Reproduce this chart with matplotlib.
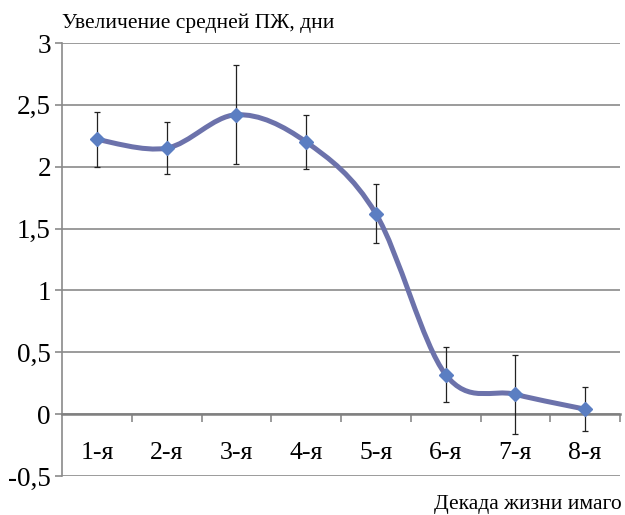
# =========================================================
# УВЕЛИЧЕНИЕ СРЕДНЕЙ ПЖ ПО ДЕКАДАМ ЖИЗНИ ИМАГО
# =========================================================

import matplotlib.pyplot as plt
from matplotlib.path import Path
from matplotlib.patches import PathPatch
from matplotlib.ticker import FuncFormatter, FixedLocator

# =========================================================
# DATA
# =========================================================

decades = ["1-я", "2-я", "3-я", "4-я", "5-я", "6-я", "7-я", "8-я"]

gain = [2.22, 2.15, 2.42, 2.20, 1.62, 0.32, 0.16, 0.04]

err = [0.22, 0.21, 0.40, 0.22, 0.24, 0.22, 0.32, 0.18]

y_ticks = [-0.5, 0, 0.5, 1, 1.5, 2, 2.5, 3]

# =========================================================
# STYLE
# =========================================================

plt.rcParams["font.family"] = ["Liberation Serif", "DejaVu Serif"]

LINE_COLOR = "#6c72ab"
MARKER_COLOR = "#5b7ec2"
GRID_COLOR = "#8a8a8a"

# =========================================================
# SMOOTH LINE (Excel-style bezier through the points)
# =========================================================


def smooth_path(xs, ys, t=1 / 6):
    pts = list(zip(xs, ys))
    n = len(pts)
    verts = [pts[0]]
    codes = [Path.MOVETO]
    for i in range(n - 1):
        p0 = pts[max(i - 1, 0)]
        p1 = pts[i]
        p2 = pts[i + 1]
        p3 = pts[min(i + 2, n - 1)]
        c1 = (p1[0] + (p2[0] - p0[0]) * t, p1[1] + (p2[1] - p0[1]) * t)
        c2 = (p2[0] - (p3[0] - p1[0]) * t, p2[1] - (p3[1] - p1[1]) * t)
        verts += [c1, c2, p2]
        codes += [Path.CURVE4] * 3
    return Path(verts, codes)


# =========================================================
# CHART
# =========================================================

fig = plt.figure(figsize=(6.25, 5.15), dpi=100)

ax = fig.add_axes([62 / 625, 1 - 476 / 515, 558 / 625, 433 / 515])

x = list(range(1, len(decades) + 1))

ax.errorbar(
    x,
    gain,
    yerr=err,
    fmt="none",
    ecolor="#222222",
    elinewidth=0.9,
    capsize=2.5,
    capthick=0.9,
    zorder=3,
)

ax.add_patch(
    PathPatch(
        smooth_path(x, gain),
        facecolor="none",
        edgecolor=LINE_COLOR,
        linewidth=3.6,
        capstyle="round",
        joinstyle="round",
        zorder=4,
    )
)

ax.plot(
    x,
    gain,
    linestyle="none",
    marker="D",
    markersize=7,
    color=MARKER_COLOR,
    zorder=5,
)

ax.set_xlim(0.5, len(decades) + 0.5)
ax.set_ylim(-0.5, 3)

# =========================================================
# AXES FORMATTING
# =========================================================

ax.set_yticks(y_ticks)
ax.yaxis.set_major_formatter(
    FuncFormatter(lambda v, _: f"{v:g}".replace(".", ","))
)
ax.tick_params(
    axis="y",
    direction="out",
    length=5,
    width=1.2,
    color=GRID_COLOR,
    labelsize=19.5,
    pad=3,
)
ax.yaxis.grid(True, color=GRID_COLOR, linewidth=1.2)
ax.set_axisbelow(True)

# category boundaries as ticks, labels at the centres
ax.xaxis.set_major_locator(FixedLocator([i + 0.5 for i in x]))
ax.xaxis.set_minor_locator(FixedLocator(x))
ax.xaxis.set_major_formatter(FuncFormatter(lambda v, _: ""))
ax.set_xticklabels(decades, minor=True)
ax.tick_params(
    axis="x",
    which="major",
    direction="out",
    length=6,
    width=1.2,
    color=GRID_COLOR,
)
ax.tick_params(axis="x", which="minor", length=0, labelsize=18.5, pad=20)

for side in ["top", "right"]:
    ax.spines[side].set_visible(False)

ax.spines["left"].set_color(GRID_COLOR)
ax.spines["left"].set_linewidth(1.2)
ax.spines["bottom"].set_position(("data", 0))
ax.spines["bottom"].set_color("#808080")
ax.spines["bottom"].set_linewidth(1.8)

fig.text(
    62 / 625,
    1 - 23 / 515,
    "Увеличение средней ПЖ, дни",
    fontsize=15.5,
    ha="left",
    va="center",
)

fig.text(
    622 / 625,
    1 - 505 / 515,
    "Декада жизни имаго",
    fontsize=15.5,
    ha="right",
    va="center",
)

fig.savefig("out.png", dpi=100)
